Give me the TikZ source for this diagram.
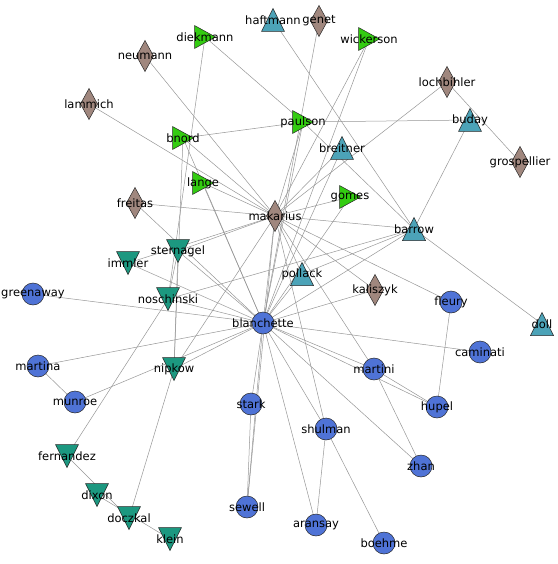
\documentclass[tikz,border=0pt]{standalone}
\usepackage{fontspec}
\setmainfont{DejaVu Sans}
\definecolor{cblue}{RGB}{79,115,214}
\definecolor{cteal}{RGB}{28,152,128}
\definecolor{cgreen}{RGB}{51,204,17}
\definecolor{clblue}{RGB}{76,163,184}
\definecolor{cbrown}{RGB}{160,135,126}
\definecolor{cedge}{RGB}{150,150,150}
\definecolor{cline}{RGB}{40,40,40}
\tikzset{
  mk/.style={line width=0.5pt, draw=cline},
  circ/.pic={\filldraw[mk, fill=cblue] (0,0) circle (11);},
  tup/.pic={\filldraw[mk, fill=clblue] (0,11.5)--(-11.5,-11.5)--(11.5,-11.5)--cycle;},
  tdown/.pic={\filldraw[mk, fill=cteal] (0,-11.5)--(-11.5,11.5)--(11.5,11.5)--cycle;},
  tright/.pic={\filldraw[mk, fill=cgreen] (10.5,0)--(-10.5,11.5)--(-10.5,-11.5)--cycle;},
  dia/.pic={\filldraw[mk, fill=cbrown] (0,15.5)--(8.5,0)--(0,-15.5)--(-8.5,0)--cycle;},
  edg/.style={draw=cedge, line width=0.5pt},
  lbl/.style={inner sep=0pt, text=black, font=\fontsize{11.5}{12}\selectfont}
}
\begin{document}
\begin{tikzpicture}[x=1pt,y=1pt]
\useasboundingbox (0,0) rectangle (557,-564);
% coordinates
\coordinate (haftmann) at (273,-20);
\coordinate (genet) at (319,-21);
\coordinate (diekmann) at (205,-37);
\coordinate (wickerson) at (369,-39);
\coordinate (neumann) at (145,-56);
\coordinate (lammich) at (89,-104);
\coordinate (lochbihler) at (447,-82);
\coordinate (paulson) at (303,-122);
\coordinate (buday) at (470,-120);
\coordinate (bnord) at (183,-138);
\coordinate (breitner) at (342,-148);
\coordinate (grospellier) at (520,-162);
\coordinate (lange) at (203,-183);
\coordinate (gomes) at (350,-197);
\coordinate (freitas) at (135,-203);
\coordinate (makarius) at (275,-216);
\coordinate (barrow) at (414,-229);
\coordinate (stemagel) at (178,-251);
\coordinate (immler) at (128,-263);
\coordinate (pollack) at (302,-274);
\coordinate (kaliszyk) at (375,-290);
\coordinate (greenaway) at (33,-294);
\coordinate (noschinski) at (168,-299);
\coordinate (fleury) at (451,-302);
\coordinate (blanchette) at (263,-323);
\coordinate (doll) at (542,-324);
\coordinate (caminati) at (480,-352);
\coordinate (martina) at (38,-366);
\coordinate (nipkow) at (174,-369);
\coordinate (martini) at (374,-369);
\coordinate (munroe) at (75,-402);
\coordinate (stark) at (251,-404);
\coordinate (hupel) at (437,-407);
\coordinate (shulman) at (326,-429);
\coordinate (fernandez) at (67,-456);
\coordinate (zhan) at (421,-466);
\coordinate (dixon) at (97,-495);
\coordinate (sewell) at (247,-507);
\coordinate (doczkal) at (129,-518);
\coordinate (aransay) at (316,-525);
\coordinate (klein) at (170,-539);
\coordinate (boehme) at (384,-543);
% edges
\foreach \a/\b in {
 neumann/makarius, lammich/makarius, diekmann/paulson, diekmann/noschinski,
 haftmann/barrow, genet/blanchette, wickerson/makarius, wickerson/blanchette,
 lochbihler/makarius, lochbihler/grospellier, paulson/buday, bnord/paulson,
 bnord/makarius, bnord/blanchette, bnord/nipkow, lange/makarius, lange/blanchette,
 paulson/makarius, paulson/blanchette, paulson/barrow, breitner/makarius,
 breitner/blanchette, gomes/makarius, gomes/blanchette, freitas/makarius,
 freitas/blanchette, makarius/barrow, buday/barrow, barrow/doll, pollack/barrow,
 blanchette/barrow, noschinski/barrow, makarius/fleury, makarius/kaliszyk,
 makarius/martini, makarius/shulman, makarius/blanchette, makarius/sewell,
 stemagel/makarius, immler/makarius, stemagel/blanchette, stemagel/nipkow,
 immler/blanchette, noschinski/blanchette, noschinski/stemagel, noschinski/fernandez,
 greenaway/blanchette, martina/blanchette, martina/munroe, munroe/blanchette,
 nipkow/blanchette, nipkow/doczkal, fernandez/doczkal, dixon/klein,
 stark/blanchette, sewell/blanchette, sewell/stark, aransay/blanchette,
 aransay/shulman, shulman/blanchette, shulman/boehme, zhan/martini,
 zhan/blanchette, hupel/martini, hupel/blanchette, fleury/hupel,
 caminati/blanchette, martini/blanchette, kaliszyk/blanchette, pollack/blanchette,
 pollack/makarius, makarius/nipkow}
 {\draw[edg] (\a) -- (\b);}
% markers
\foreach \n in {greenaway, blanchette, fleury, caminati, martina, martini, munroe, stark, hupel, shulman, zhan, sewell, aransay, boehme}
 {\pic at (\n) {circ};}
\foreach \n in {haftmann, buday, breitner, barrow, pollack, doll}
 {\pic at (\n) {tup};}
\foreach \n in {stemagel, immler, noschinski, nipkow, fernandez, dixon, doczkal, klein}
 {\pic at (\n) {tdown};}
\foreach \n in {diekmann, wickerson, paulson, bnord, lange, gomes}
 {\pic at (\n) {tright};}
\foreach \n in {genet, neumann, lammich, lochbihler, grospellier, freitas, makarius, kaliszyk}
 {\pic at (\n) {dia};}
% labels
\foreach \n/\t in {haftmann/haftmann, genet/genet, diekmann/diekmann, wickerson/wickerson,
 neumann/neumann, lammich/lammich, lochbihler/lochbihler, paulson/paulson, buday/buday,
 bnord/bnord, breitner/breitner, grospellier/grospellier, lange/lange, gomes/gomes,
 freitas/freitas, makarius/makarius, barrow/barrow, stemagel/sternagel, immler/immler,
 pollack/pollack, kaliszyk/kaliszyk, greenaway/greenaway, noschinski/noschinski,
 fleury/fleury, blanchette/blanchette, doll/doll, caminati/caminati, martina/martina,
 nipkow/nipkow, martini/martini, munroe/munroe, stark/stark, hupel/hupel,
 shulman/shulman, fernandez/fernandez, zhan/zhan, dixon/dixon, sewell/sewell,
 doczkal/doczkal, aransay/aransay, klein/klein, boehme/boehme}
 {\node[lbl] (l-\n) at (\n) {\t};}
\end{tikzpicture}
\end{document}
